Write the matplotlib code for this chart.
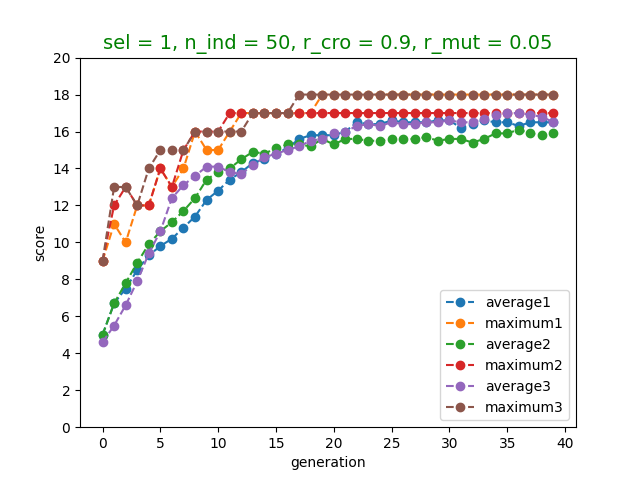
import matplotlib
matplotlib.use("Agg")
import matplotlib.pyplot as plt

gen = list(range(40))
average1 = [5.0,6.7,7.5,8.5,9.3,9.8,10.2,10.8,11.4,12.3,12.8,13.4,13.8,14.3,14.5,14.8,15.1,15.6,15.8,15.8,15.8,16.0,16.5,16.4,16.4,16.6,16.5,16.5,16.5,16.6,16.6,16.2,16.4,16.6,16.5,16.5,16.3,16.5,16.5,16.5]
maximum1 = [9,11,10,12,12,14,13,14,16,15,15,16,17,17,17,17,17,17,17,18,18,18,18,18,18,18,18,18,18,18,18,18,18,18,18,18,18,18,18,18]
average2 = [5.0,6.7,7.8,8.9,9.9,10.6,11.1,11.7,12.4,13.4,13.8,14.0,14.5,14.9,14.8,15.1,15.3,15.3,15.2,15.6,15.3,15.6,15.6,15.5,15.5,15.6,15.6,15.6,15.7,15.5,15.6,15.6,15.4,15.6,15.9,15.9,16.1,15.9,15.8,15.9]
maximum2 = [9,12,13,12,12,14,13,15,16,16,16,17,17,17,17,17,17,17,17,17,17,17,17,17,17,17,17,17,17,17,17,17,17,17,17,17,17,17,17,17]
average3 = [4.6,5.5,6.6,7.9,9.4,10.6,12.4,13.1,13.6,14.1,14.1,13.8,13.7,14.2,14.6,14.8,15.0,15.2,15.5,15.6,15.9,16.0,16.3,16.4,16.3,16.5,16.4,16.4,16.5,16.5,16.6,16.5,16.5,16.7,16.9,17.0,17.0,16.9,16.8,16.5]
maximum3 = [9,13,13,12,14,15,15,15,16,16,16,16,16,17,17,17,17,18,18,18,18,18,18,18,18,18,18,18,18,18,18,18,18,18,18,18,18,18,18,18]

fig, ax = plt.subplots(figsize=(6.4, 4.8), dpi=100)
for name, s in [("average1", average1), ("maximum1", maximum1), ("average2", average2),
                ("maximum2", maximum2), ("average3", average3), ("maximum3", maximum3)]:
    ax.plot(gen, s, "o--", label=name)
ax.set_ylim(0, 20)
ax.set_yticks(range(0, 21, 2))
ax.set_xlabel("generation")
ax.set_ylabel("score")
ax.set_title("sel = 1, n_ind = 50, r_cro = 0.9, r_mut = 0.05", color="green", fontsize=14)
ax.legend(loc="lower right")
fig.savefig("out.png")
